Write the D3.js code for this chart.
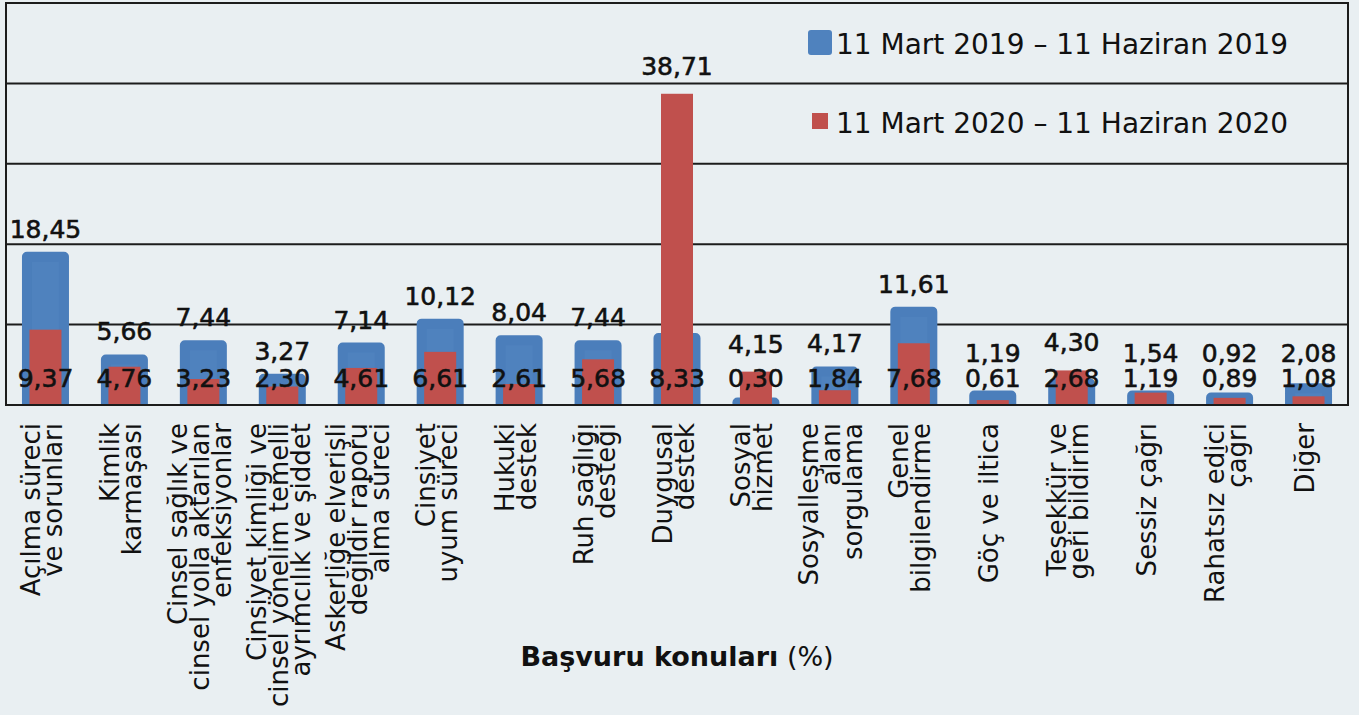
<!DOCTYPE html>
<html>
<head>
<meta charset="utf-8">
<title>Başvuru konuları</title>
<script src="https://d3js.org/d3.v7.min.js"></script>
<style>
  body { margin: 0; background: #e9eff2; }
  svg { display: block; }
</style>
</head>
<body>
<div id="chart"></div>
<script>
// kategoriler (her satir ayri)
var categories = [
  ["Açılma süreci", "ve sorunları"],
  ["Kimlik", "karmaşası"],
  ["Cinsel sağlık ve", "cinsel yolla aktarılan", "enfeksiyonlar"],
  ["Cinsiyet kimliği ve", "cinsel yönelim temelli", "ayrımcılık ve şiddet"],
  ["Askerliğe elverişli", "değildir raporu", "alma süreci"],
  ["Cinsiyet", "uyum süreci"],
  ["Hukuki", "destek"],
  ["Ruh sağlığı", "desteği"],
  ["Duygusal", "destek"],
  ["Sosyal", "hizmet"],
  ["Sosyalleşme", "alanı", "sorgulama"],
  ["Genel", "bilgilendirme"],
  ["Göç ve iltica"],
  ["Teşekkür ve", "geri bildirim"],
  ["Sessiz çağrı"],
  ["Rahatsız edici", "çağrı"],
  ["Diğer"]
];
var values2019 = [18.45, 5.66, 7.44, 3.27, 7.14, 10.12, 8.04, 7.44, 8.33, 0.30, 4.17, 11.61, 1.19, 2.68, 1.19, 0.92, 2.08];
var values2020 = [9.37, 4.76, 3.23, 2.30, 4.61, 6.61, 2.61, 5.68, 38.71, 4.15, 1.84, 7.68, 0.61, 4.30, 1.54, 0.89, 1.08];
var seriesNames = ["11 Mart 2019 – 11 Haziran 2019", "11 Mart 2020 – 11 Haziran 2020"];
var yTicks = [0, 10, 20, 30, 40, 50];

var width = 1359, height = 715;
var plotLeft = 6, plotRight = 1348, plotTop = 3, plotBottom = 405;
var font = "'DejaVu Sans', sans-serif";
var blue = "#4f82be", blueEdge = "#4b7ebb", red = "#c0504d";

var tr = d3.formatLocale({ decimal: ",", thousands: ".", grouping: [3], currency: ["", ""] });
var fmt = tr.format(".2f");

var svg = d3.select("#chart").append("svg")
  .attr("width", width)
  .attr("height", height)
  .style("background", "#e9eff2");

var x = d3.scaleBand()
  .domain(d3.range(categories.length))
  .range([plotLeft, plotRight]);

var y = d3.scaleLinear()
  .domain([0, 50])
  .range([plotBottom, plotTop]);

// yatay cizgiler
svg.append("g").selectAll("line")
  .data(yTicks)
  .enter().append("line")
  .attr("x1", plotLeft).attr("x2", plotRight)
  .attr("y1", function(d) { return y(d); })
  .attr("y2", function(d) { return y(d); })
  .attr("stroke", "#1c1c1c")
  .attr("stroke-width", 2);

svg.append("line")
  .attr("x1", plotLeft).attr("x2", plotLeft)
  .attr("y1", y(50) - 1).attr("y2", y(0) + 1)
  .attr("stroke", "#1c1c1c").attr("stroke-width", 2);
svg.append("line")
  .attr("x1", plotRight).attr("x2", plotRight)
  .attr("y1", y(50) - 1).attr("y2", y(0) + 1)
  .attr("stroke", "#1c1c1c").attr("stroke-width", 2);

svg.append("clipPath").attr("id", "plot")
  .append("rect").attr("x", 0).attr("y", 0).attr("width", width).attr("height", y(0));

var bars = svg.append("g").attr("clip-path", "url(#plot)");

// 2019 - mavi, kalin kenarli
bars.selectAll(".b19")
  .data(values2019)
  .enter().append("rect")
  .attr("class", "b19")
  .attr("x", function(d, i) { return x(i) + x.bandwidth() / 2 - 18.5; })
  .attr("width", 37)
  .attr("y", function(d) { return y(d); })
  .attr("height", function(d) { return y(0) - y(d) + 6; })
  .attr("fill", blue)
  .attr("stroke", blueEdge)
  .attr("stroke-width", 10)
  .attr("stroke-linejoin", "round");

// 2020 - kirmizi
bars.selectAll(".b20")
  .data(values2020)
  .enter().append("rect")
  .attr("class", "b20")
  .attr("x", function(d, i) { return x(i) + x.bandwidth() / 2 - 16; })
  .attr("width", 32)
  .attr("y", function(d) { return y(d); })
  .attr("height", function(d) { return y(0) - y(d); })
  .attr("fill", red);

svg.append("line")
  .attr("x1", plotLeft).attr("x2", plotRight)
  .attr("y1", y(0)).attr("y2", y(0))
  .attr("stroke", "#1c1c1c").attr("stroke-width", 2);

// deger etiketleri
var pairs = values2019.map(function(v, i) { return [v, values2020[i]]; });
var labels = svg.append("g")
  .attr("font-family", font)
  .attr("font-size", 25)
  .attr("fill", "#111")
  .attr("stroke", "#111")
  .attr("stroke-width", 0.6)
  .attr("text-anchor", "middle");

labels.selectAll(".hi")
  .data(pairs)
  .enter().append("text")
  .attr("x", function(d, i) { return x(i) + x.bandwidth() / 2; })
  .attr("y", function(d) { return Math.min(y(d3.max(d)) - 19, 362); })
  .text(function(d) { return fmt(d3.max(d)); });

labels.selectAll(".lo")
  .data(pairs)
  .enter().append("text")
  .attr("x", function(d, i) { return x(i) + x.bandwidth() / 2; })
  .attr("y", 387)
  .text(function(d) { return fmt(d3.min(d)); });

// kategori etiketleri
var cat = svg.append("g")
  .attr("font-family", font)
  .attr("font-size", 26)
  .attr("fill", "#111")
  .selectAll("text")
  .data(categories)
  .enter().append("text")
  .attr("text-anchor", "end")
  .attr("transform", function(d, i) {
    return "translate(" + (x(i) + x.bandwidth() / 2) + ",423) rotate(-90)";
  });

cat.selectAll("tspan")
  .data(function(d) { return d.map(function(t, j) { return { t: t, j: j, n: d.length }; }); })
  .enter().append("tspan")
  .attr("x", 0)
  .attr("y", function(d) { return 5.5 + (d.j - (d.n - 1) / 2) * 22; })
  .text(function(d) { return d.t; });

// eksen basligi
var title = svg.append("text")
  .attr("x", (plotLeft + plotRight) / 2)
  .attr("y", 666)
  .attr("text-anchor", "middle")
  .attr("font-family", font)
  .attr("font-size", 27)
  .attr("fill", "#111");
title.append("tspan").attr("font-weight", "bold").text("Başvuru konuları");
title.append("tspan").text(" (%)");

// lejant
var legend = svg.append("g").attr("font-family", font).attr("font-size", 28).attr("fill", "#111");
legend.append("rect")
  .attr("x", 808).attr("y", 30).attr("width", 24).attr("height", 25).attr("rx", 3)
  .attr("fill", blue);
legend.append("text").attr("x", 836).attr("y", 54).text(seriesNames[0]);
legend.append("rect")
  .attr("x", 812).attr("y", 113).attr("width", 16).attr("height", 16)
  .attr("fill", red);
legend.append("text").attr("x", 836).attr("y", 133).text(seriesNames[1]);
</script>
</body>
</html>
